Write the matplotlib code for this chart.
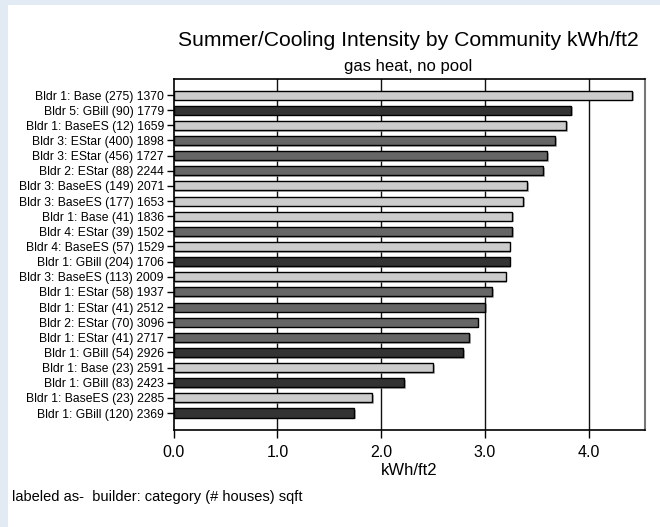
import matplotlib
matplotlib.use("Agg")
import matplotlib.pyplot as plt
import matplotlib.patheffects as pe
from matplotlib.patches import Rectangle

plt.rcParams['font.family'] = ['Liberation Sans', 'DejaVu Sans']

builders = [1, 5, 1, 3, 3, 2, 3, 3, 1, 4, 4, 1, 3, 1, 1, 2, 1, 1, 1, 1, 1, 1]
categories = ["Base", "GBill", "BaseES", "EStar", "EStar", "EStar", "BaseES", "BaseES",
              "Base", "EStar", "BaseES", "GBill", "BaseES", "EStar", "EStar", "EStar",
              "EStar", "GBill", "Base", "GBill", "BaseES", "GBill"]
houses = [275, 90, 12, 400, 456, 88, 149, 177, 41, 39, 57, 204, 113, 58, 41, 70, 41, 54, 23, 83, 23, 120]
sqft = [1370, 1779, 1659, 1898, 1727, 2244, 2071, 1653, 1836, 1502, 1529, 1706, 2009, 1937,
        2512, 3096, 2717, 2926, 2591, 2423, 2285, 2369]
intensity = [4.42, 3.83, 3.78, 3.68, 3.60, 3.56, 3.41, 3.37, 3.26, 3.26, 3.24, 3.24, 3.20,
             3.07, 3.00, 2.93, 2.85, 2.79, 2.50, 2.22, 1.91, 1.74]
category_colors = {"Base": "#cccccc", "BaseES": "#cccccc", "EStar": "#666666", "GBill": "#333333"}
xticks = [0, 1, 2, 3, 4]

labels = [f"Bldr {b}: {c} ({h}) {s}" for b, c, h, s in zip(builders, categories, houses, sqft)]

fig = plt.figure(figsize=(6.6, 5.27), dpi=100)
fig.patch.set_facecolor("#e2eaf4")
fig.patches.append(Rectangle((8/660, 0), 1, 1 - 5/527, transform=fig.transFigure,
                             facecolor="white", edgecolor="none", zorder=-5))

ax = fig.add_axes([173.7/660, 1 - 430/527, (644.7 - 173.7)/660, (430 - 79)/527])
ax.set_facecolor("white")

n = len(intensity)
ypos = list(range(n))
bars = ax.barh(ypos, intensity, height=0.6,
               color=[category_colors[c] for c in categories],
               edgecolor="black", linewidth=1.0, zorder=3)
for b in bars:
    b.set_path_effects([pe.SimplePatchShadow(offset=(1.2, -1.2), shadow_rgbFace="#888888", alpha=0.6),
                        pe.Normal()])

ax.set_ylim(n - 1 + 1.12, -1.06)
ax.set_xlim(0, 4.54)
ax.set_yticks(ypos)
ax.set_yticklabels(labels, fontsize=8.7)
ax.set_xticks(xticks)
ax.set_xticklabels([f"{t:.1f}" for t in xticks], fontsize=11.5)
ax.tick_params(axis="y", length=5, width=1, pad=2)
ax.tick_params(axis="x", length=6, width=1, pad=5)

for t in xticks[1:]:
    ax.axvline(t, color="#111111", linewidth=1.0, zorder=1)

for s in ["left", "bottom", "top"]:
    ax.spines[s].set_color("black")
    ax.spines[s].set_linewidth(1.2)
ax.spines["right"].set_color("#777777")
ax.spines["right"].set_linewidth(1.5)

ax.set_xlabel("kWh/ft2", fontsize=12, labelpad=2)

fig.text(408/660, 1 - 41/527, "Summer/Cooling Intensity by Community kWh/ft2",
         ha="center", va="center", fontsize=15.2)
fig.text(408/660, 1 - 66/527, "gas heat, no pool", ha="center", va="center", fontsize=12)
fig.text(12/660, 1 - 497/527, "labeled as-  builder: category (# houses) sqft",
         ha="left", va="center", fontsize=10.5)

fig.savefig("out.png", dpi=100)
